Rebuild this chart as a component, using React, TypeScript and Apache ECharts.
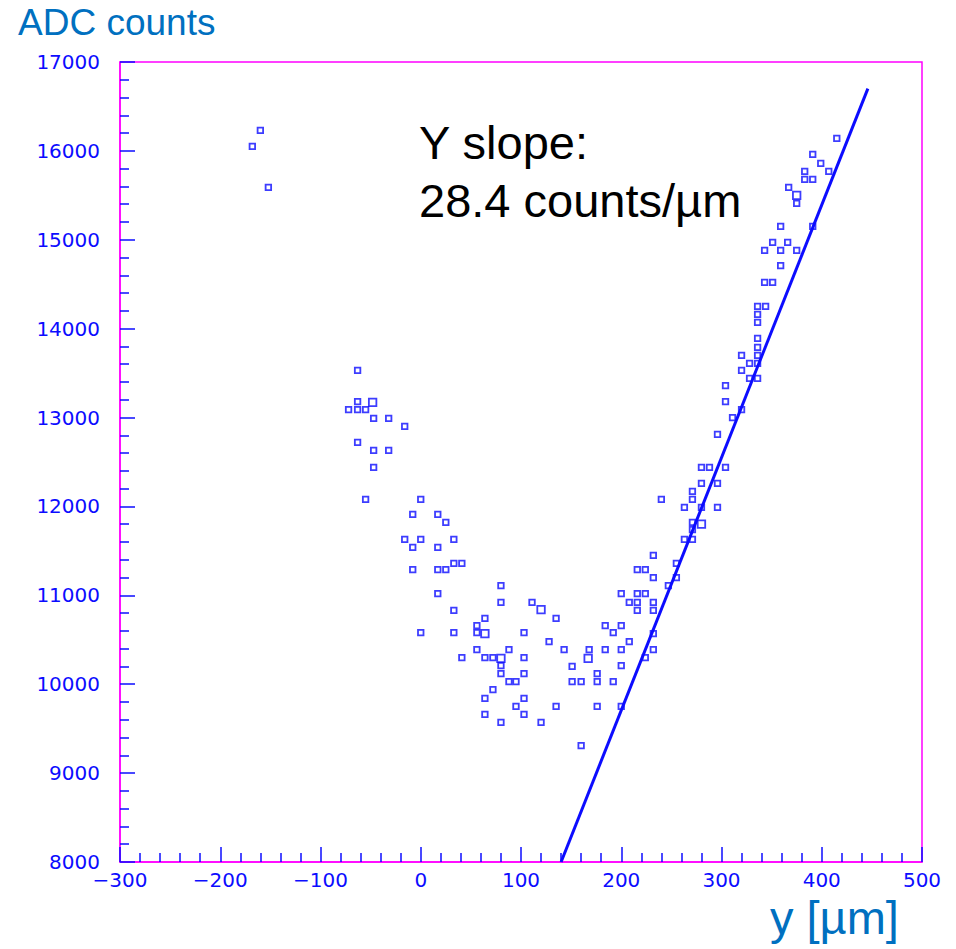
import React, { useEffect, useRef } from "react";
import * as echarts from "echarts";

// y position [µm] and ADC counts
const scatterY: number[] = [
  -160, -168, -152,
  -63, -63, -72, -63, -55, -47, -32, -16, -63, -47, -32, -47, -55, 0,
  -8, 17, 25, -16, 0, 33, -8, 17, 33, 41, -8, 17, 25, 17, 33, 0, 33,
  80, 80, 111, 64, 135, 56, 56, 103, 128, 56, 88, 143, 41, 64, 72, 103,
  80, 151, 80, 103, 88, 95, 151, 160, 72, 64, 103, 95, 135, 64, 103, 80, 120,
  232, 255, 216, 224, 232, 255, 247, 200, 216, 224, 208, 216, 232, 216, 232,
  184, 200, 192, 208, 232, 168, 184, 200, 232, 224, 200, 176, 176, 192, 176, 200, 160,
  304, 304, 311, 320, 296, 280, 288, 304, 280, 296, 271, 240, 271, 263, 280, 296,
  271, 271, 263, 271,
  415, 391, 399, 383, 407, 383, 391, 367, 375, 359, 391, 351, 366, 343, 359, 375,
  359, 343, 351, 336, 344, 336, 336, 336, 336, 320, 336, 328, 336, 320, 328, 336,
];
const scatterADC: number[] = [
  16230, 16050, 15590,
  13530, 13180, 13090, 13090, 13090, 12990, 12990, 12900, 12720, 12630, 12630, 12440, 12080, 12080,
  11910, 11910, 11820, 11630, 11630, 11630, 11540, 11540, 11360, 11360, 11290, 11290, 11290, 11020, 10830, 10580, 10580,
  11110, 10920, 10920, 10740, 10740, 10660, 10580, 10580, 10480, 10390, 10390, 10390, 10300, 10300, 10300, 10300,
  10210, 10200, 10120, 10120, 10030, 10030, 10030, 10030, 9940, 9840, 9840, 9750, 9750, 9660, 9660, 9570, 9570,
  11450, 11360, 11290, 11290, 11200, 11200, 11110, 11020, 11020, 11020, 10920, 10920, 10920, 10830, 10830,
  10660, 10660, 10580, 10480, 10570, 10390, 10390, 10390, 10390, 10300, 10210, 10120, 10030, 10030, 9750, 9750, 9310,
  13360, 13180, 13000, 13090, 12810, 12440, 12440, 12440, 12260, 12260, 12170, 12080, 12080, 11990, 11990, 11990,
  11820, 11740, 11630, 11630,
  16140, 15960, 15860, 15770, 15770, 15680, 15680, 15590, 15410, 15150, 15150, 14970, 14970, 14880, 14880, 14880,
  14710, 14520, 14520, 14250, 14250, 14160, 14070, 13890, 13790, 13700, 13700, 13610, 13610, 13530, 13440, 13440,
];
// points drawn with a slightly bigger box
const bigY: number[] = [-48, 120, 64, 80, 167, 280, 375];
const bigADC: number[] = [13170, 10840, 10570, 10290, 10290, 11800, 15500];

// fitted line end points
const fitY: number[] = [140, 446];
const fitADC: number[] = [8000, 16700];

const xTicks = { min: -300, max: 500, step: 100 };
const yTicks = { min: 8000, max: 17000, step: 1000 };

const titleText = "ADC counts";
const xAxisTitle = "y [µm]";
const noteLines = ["Y slope:", "28.4 counts/µm"];

const BLUE = "#0c0cff";
const MAGENTA = "#ff00ff";
const OFFICE = "#0070c0";

export default function App() {
  const ref = useRef<HTMLDivElement>(null);
  useEffect(() => {
    if (!ref.current) return;
    const chart = echarts.init(ref.current, undefined, { renderer: "svg" });
    const pts = scatterY.map((v, i) => [v, scatterADC[i]]);
    const big = bigY.map((v, i) => [v, bigADC[i]]);
    const fit = fitY.map((v, i) => [v, fitADC[i]]);
    const tickFont = {
      color: BLUE,
      fontFamily: "DejaVu Sans",
      fontSize: 20,
    };
    chart.setOption({
      animation: false,
      backgroundColor: "#ffffff",
      grid: {
        left: 120,
        top: 62,
        width: 802,
        height: 800,
        show: true,
        borderColor: MAGENTA,
        borderWidth: 1.5,
        backgroundColor: "transparent",
      },
      xAxis: {
        type: "value",
        min: xTicks.min,
        max: xTicks.max,
        interval: xTicks.step,
        axisLine: { show: true, onZero: false, lineStyle: { color: MAGENTA, width: 1.5 } },
        axisTick: { show: true, inside: true, length: 15, lineStyle: { color: BLUE, width: 1.5 } },
        minorTick: { show: true, splitNumber: 5, length: 9, lineStyle: { color: BLUE, width: 1.5 } },
        splitLine: { show: false },
        axisLabel: {
          ...tickFont,
          margin: 8,
          formatter: (v: number) => (v < 0 ? "\u2212" + Math.abs(v) : String(v)),
        },
      },
      yAxis: {
        type: "value",
        min: yTicks.min,
        max: yTicks.max,
        interval: yTicks.step,
        axisLine: { show: true, onZero: false, lineStyle: { color: MAGENTA, width: 1.5 } },
        axisTick: { show: true, inside: true, length: 15, lineStyle: { color: BLUE, width: 1.5 } },
        minorTick: { show: true, splitNumber: 5, length: 9, lineStyle: { color: BLUE, width: 1.5 } },
        splitLine: { show: false },
        axisLabel: { ...tickFont, margin: 20, formatter: (v: number) => String(v) },
      },
      graphic: [
        {
          type: "text",
          left: 18,
          top: 4,
          style: {
            text: titleText,
            fill: OFFICE,
            font: "37px 'Liberation Sans', Arial, sans-serif",
          },
        },
        {
          type: "text",
          left: 770,
          top: 894,
          style: {
            text: xAxisTitle,
            fill: OFFICE,
            font: "47px 'Liberation Sans', Arial, sans-serif",
          },
        },
        {
          type: "text",
          left: 419,
          top: 113,
          style: {
            text: noteLines.join("\n"),
            fill: "#000000",
            font: "47px 'Liberation Sans', Arial, sans-serif",
            lineHeight: 58,
          },
        },
      ],
      series: [
        {
          type: "line",
          data: fit,
          showSymbol: false,
          symbol: "none",
          lineStyle: { color: BLUE, width: 3 },
          z: 3,
        },
        {
          type: "scatter",
          data: pts,
          symbol: "rect",
          symbolSize: 5.5,
          itemStyle: { color: "rgba(255,255,255,0)", borderColor: BLUE, borderWidth: 1.8 },
          z: 4,
        },
        {
          type: "scatter",
          data: big,
          symbol: "rect",
          symbolSize: 7.5,
          itemStyle: { color: "rgba(255,255,255,0)", borderColor: BLUE, borderWidth: 1.8 },
          z: 4,
        },
      ],
    });
    return () => chart.dispose();
  }, []);
  return (
    <div
      ref={ref}
      style={{ position: "fixed", left: 0, top: 0, width: 956, height: 949, background: "#fff" }}
    />
  );
}
